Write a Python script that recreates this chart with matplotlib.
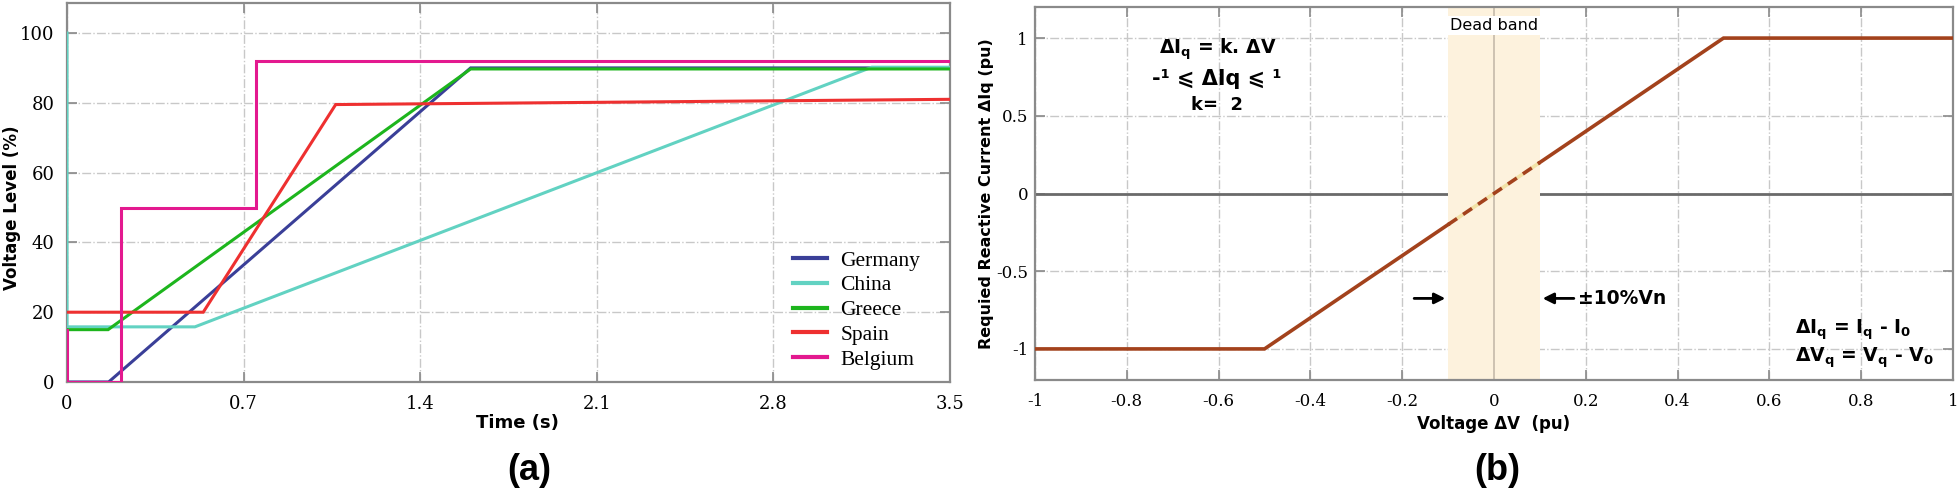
import matplotlib
matplotlib.use("Agg")
import matplotlib.pyplot as plt
import numpy as np

# ---------------- data: panel (a) ----------------
countries = ["Germany", "China", "Greece", "Spain", "Belgium"]
colors_a = ["#3a3f98", "#62d2c2", "#1db51d", "#ee3030", "#e3198f"]
germany_t = [0.0, 0.165, 1.6, 3.5]
germany_v = [0.0, 0.0, 90.0, 90.0]
china_t = [0.0, 0.0, 0.507, 3.19, 3.5]
china_v = [100.0, 15.8, 15.8, 90.2, 90.2]
greece_t = [0.0, 0.163, 1.6, 3.5]
greece_v = [15.0, 15.0, 89.7, 89.7]
spain_t = [0.0, 0.54, 1.065, 3.5]
spain_v = [20.0, 20.0, 79.5, 81.0]
belgium_t = [0.0, 0.0, 0.215, 0.215, 0.75, 0.75, 3.5]
belgium_v = [15.0, 0.0, 0.0, 49.8, 49.8, 92.0, 92.0]
xticks_a = [0, 0.7, 1.4, 2.1, 2.8, 3.5]
xticklabels_a = ["0", "0.7", "1.4", "2.1", "2.8", "3.5"]
yticks_a = [0, 20, 40, 60, 80, 100]

# ---------------- data: panel (b) ----------------
dv_solid_left = [-1.0, -0.5, -0.1]
diq_solid_left = [-1.0, -1.0, -0.2]
dv_dead = [-0.1, 0.1]
diq_dead = [-0.2, 0.2]
dv_solid_right = [0.1, 0.5, 1.0]
diq_solid_right = [0.2, 1.0, 1.0]
xticks_b = [-1, -0.8, -0.6, -0.4, -0.2, 0, 0.2, 0.4, 0.6, 0.8, 1]
xticklabels_b = ["-1", "-0.8", "-0.6", "-0.4", "-0.2", "0", "0.2", "0.4", "0.6", "0.8", "1"]
yticks_b = [-1, -0.5, 0, 0.5, 1]
yticklabels_b = ["-1", "-0.5", "0", "0.5", "1"]
deadband = (-0.1, 0.1)

W, H = 1958, 490
fig = plt.figure(figsize=(W / 100, H / 100), dpi=100)
fig.patch.set_facecolor("white")

spine_c = "#8a8a8a"
grid_c = "#c8c8c8"
tick_font = "DejaVu Serif"

# ---------------- panel (a) ----------------
axa = fig.add_axes([67 / W, 1 - 382 / H, (950 - 67) / W, (382 - 3) / H])
series = [(germany_t, germany_v), (china_t, china_v), (greece_t, greece_v),
          (spain_t, spain_v), (belgium_t, belgium_v)]
for (t, v), name, c in zip(series, countries, colors_a):
    axa.plot(t, v, color=c, lw=2.2, label=name, solid_joinstyle="miter", zorder=3)
axa.set_xlim(0, 3.5)
axa.set_ylim(0, 108.6)
axa.set_xticks(xticks_a)
axa.set_xticklabels(xticklabels_a)
axa.set_yticks(yticks_a)
axa.grid(True, color=grid_c, ls="-.", lw=1.0)
for s in axa.spines.values():
    s.set_color(spine_c)
    s.set_linewidth(1.6)
axa.tick_params(direction="in", top=True, right=True, color=spine_c, length=7, width=1.2,
                labelsize=13, pad=9)
for lab in axa.get_xticklabels() + axa.get_yticklabels():
    lab.set_fontfamily(tick_font)
axa.set_xlabel("Time (s)", fontsize=13, fontweight="bold", fontfamily="DejaVu Sans")
axa.xaxis.set_label_coords(0.51, -0.085)
axa.set_ylabel("Voltage Level (%)", fontsize=12, fontweight="bold", fontfamily="DejaVu Sans")
axa.yaxis.set_label_coords(-0.052, 0.46)
leg = axa.legend(loc="upper left", bbox_to_anchor=(0.822, 0.347), frameon=False,
                 prop={"family": "Liberation Serif", "size": 15.5},
                 handlelength=1.6, handletextpad=0.6, labelspacing=0.22,
                 borderpad=0, borderaxespad=0)
for h in leg.get_lines():
    h.set_linewidth(3)
fig.text(529 / W, 1 - 470 / H, "(a)", fontsize=26, fontweight="bold",
         fontfamily="Liberation Sans", ha="center", va="center")

# ---------------- panel (b) ----------------
axb = fig.add_axes([1035 / W, 1 - 380 / H, (1953 - 1035) / W, (380 - 7) / H])
axb.set_xlim(-1, 1)
axb.set_ylim(-1.2, 1.2)
axb.set_xticks(xticks_b)
axb.set_xticklabels(xticklabels_b)
axb.set_yticks(yticks_b)
axb.set_yticklabels(yticklabels_b)
axb.grid(True, color=grid_c, ls="-.", lw=1.0, zorder=0)
axb.set_axisbelow(True)
axb.axhline(0, color="#6a6a6a", lw=2.0, zorder=1)
axb.axvspan(deadband[0], deadband[1], color="#fdf2dd", zorder=2, lw=0)
axb.axvline(0, color="#c9bfae", lw=1.3, zorder=2.5)
# white label box on top of the band
axb.fill_between(deadband, [1.02, 1.02], [1.14, 1.14], color="white", lw=0, zorder=2.6)
axb.text(0.0, 1.08, "Dead band", ha="center", va="center", fontsize=11.5,
         fontfamily="DejaVu Sans", zorder=3)
brown = "#a3421c"
axb.plot(dv_solid_left, diq_solid_left, color=brown, lw=2.6, zorder=4,
         solid_joinstyle="miter")
axb.plot(dv_solid_right, diq_solid_right, color=brown, lw=2.6, zorder=4,
         solid_joinstyle="miter")
axb.plot(dv_dead, diq_dead, color=brown, lw=2.6, ls=(0, (3, 2)), gapcolor="#f2e2a6",
         zorder=4)
for s in axb.spines.values():
    s.set_color(spine_c)
    s.set_linewidth(1.6)
axb.tick_params(direction="in", top=True, right=True, color=spine_c, length=7, width=1.2,
                labelsize=12, pad=9)
axb.tick_params(axis="y", pad=5)
for lab in axb.get_xticklabels() + axb.get_yticklabels():
    lab.set_fontfamily(tick_font)
axb.set_xlabel("Voltage ΔV  (pu)", fontsize=12, fontweight="bold", fontfamily="DejaVu Sans")
axb.xaxis.set_label_coords(0.5, -0.095)
axb.set_ylabel("Requied Reactive Current ΔIq (pu)", fontsize=11.5, fontweight="bold",
               fontfamily="DejaVu Sans")
axb.yaxis.set_label_coords(-0.045, 0.5)

# arrows and annotations
axb.annotate("", xy=(-0.1, -0.675), xytext=(-0.18, -0.675),
             arrowprops=dict(arrowstyle="-|>", color="black", lw=2, mutation_scale=16),
             zorder=5)
axb.annotate("", xy=(0.1, -0.675), xytext=(0.18, -0.675),
             arrowprops=dict(arrowstyle="-|>", color="black", lw=2, mutation_scale=16),
             zorder=5)
axb.text(0.182, -0.675, "±10%Vn", ha="left", va="center", fontsize=13.5,
         fontweight="bold", fontfamily="DejaVu Sans", zorder=5)
axb.text(-0.603, 0.925, r"ΔI$_\mathbf{q}$ = k. ΔV", ha="center", va="center", fontsize=13.5,
         fontweight="bold", fontfamily="DejaVu Sans")
axb.text(-0.603, 0.735, "-¹ ⩽ ΔIq ⩽ ¹", ha="center", va="center", fontsize=15,
         fontweight="bold", fontfamily=["DejaVu Sans", "Noto Sans"])
axb.text(-0.603, 0.57, "k=  2", ha="center", va="center", fontsize=13,
         fontweight="bold", fontfamily="DejaVu Sans")
axb.text(0.655, -0.875, r"ΔI$_\mathbf{q}$ = I$_\mathbf{q}$ - I$_\mathbf{0}$", ha="left",
         va="center", fontsize=13.5, fontweight="bold", fontfamily="DejaVu Sans")
axb.text(0.655, -1.055, r"ΔV$_\mathbf{q}$ = V$_\mathbf{q}$ - V$_\mathbf{0}$", ha="left",
         va="center", fontsize=13.5, fontweight="bold", fontfamily="DejaVu Sans")
fig.text(1497 / W, 1 - 470 / H, "(b)", fontsize=26, fontweight="bold",
         fontfamily="Liberation Sans", ha="center", va="center")

fig.savefig("out.png", dpi=100, facecolor="white")
